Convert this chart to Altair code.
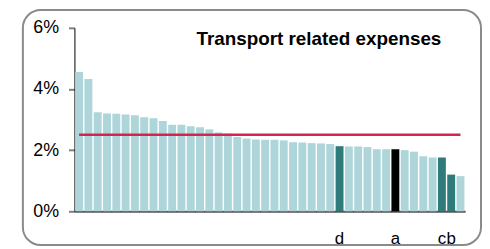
import altair as alt
import pandas as pd

values = [4.56, 4.33, 3.24, 3.20, 3.19, 3.17, 3.14, 3.08, 3.04, 2.95,
          2.83, 2.83, 2.78, 2.75, 2.68, 2.58, 2.54, 2.43, 2.38, 2.35,
          2.34, 2.34, 2.32, 2.26, 2.25, 2.23, 2.22, 2.20, 2.13, 2.12,
          2.12, 2.10, 2.03, 2.03, 2.03, 2.00, 1.95, 1.80, 1.76, 1.76,
          1.20, 1.15]
labels = [""] * 28 + ["d"] + [""] * 5 + ["a"] + [""] * 4 + ["c", "b", ""]
groups = (["other"] * 28 + ["peer"] + ["other"] * 5 + ["self"] + ["other"] * 4
          + ["peer", "peer", "other"])
ids = [f"r{i+1:02d}" for i in range(len(values))]
average = 2.5
title_text = "Transport related expenses"
y_ticks = [0, 2, 4, 6]

df = pd.DataFrame({"id": ids, "value": values, "label": labels, "group": groups})
lab_df = df[df["label"] != ""]
avg_df = pd.DataFrame({"start": [ids[0]], "end": [ids[-1]], "avg": [average]})
one = pd.DataFrame({"t": [title_text]})

W, H = 394, 185

xscale = alt.Scale(domain=ids, paddingInner=0.15, paddingOuter=0.075)

bars = alt.Chart(df).mark_bar().encode(
    x=alt.X("id:N", scale=xscale,
            axis=alt.Axis(title=None, labels=False, ticks=False, domain=True,
                          domainColor="#555555", domainWidth=2)),
    y=alt.Y("value:Q", scale=alt.Scale(domain=[0, 6], nice=False),
            axis=alt.Axis(title=None, values=y_ticks, labelExpr="datum.value + '%'",
                          grid=False, domainColor="#000000", domainWidth=1,
                          tickColor="#808080", tickSize=6, tickWidth=2,
                          labelFont="Liberation Sans", labelFontSize=18,
                          labelColor="#000000", labelPadding=10)),
    color=alt.Color("group:N",
                    scale=alt.Scale(domain=["other", "peer", "self"],
                                    range=["#aed6da", "#2f7b79", "#000000"]),
                    legend=None),
)

avg_rule = alt.Chart(avg_df).mark_rule(color="#d42450", strokeWidth=2.5).encode(
    x=alt.X("start:N", scale=xscale),
    x2="end:N",
    y="avg:Q",
)

cat_labels = alt.Chart(lab_df).mark_text(
    font="Liberation Sans", fontSize=17, baseline="alphabetic", color="#000000"
).encode(
    x=alt.X("id:N", scale=xscale),
    y=alt.value(218),
    text="label:N",
)

title = alt.Chart(one).mark_text(
    font="Liberation Sans", fontSize=19, fontWeight="bold", align="right",
    baseline="middle", color="#000000"
).encode(x=alt.value(370), y=alt.value(11), text="t:N")

border = alt.Chart(one).mark_rect(
    fill=None, stroke="#8a8a8a", strokeWidth=2, cornerRadius=18
).encode(x=alt.value(-52), x2=alt.value(410), y=alt.value(-18), y2=alt.value(219))

chart = alt.layer(bars, avg_rule, cat_labels, title, border).properties(
    width=W, height=H,
    autosize=alt.AutoSizeParams(type="none"),
    padding={"left": 67, "top": 19, "right": 17, "bottom": 37},
).configure_view(stroke=None)

chart.save("out.html", embed_options={"renderer": "svg", "actions": False})
